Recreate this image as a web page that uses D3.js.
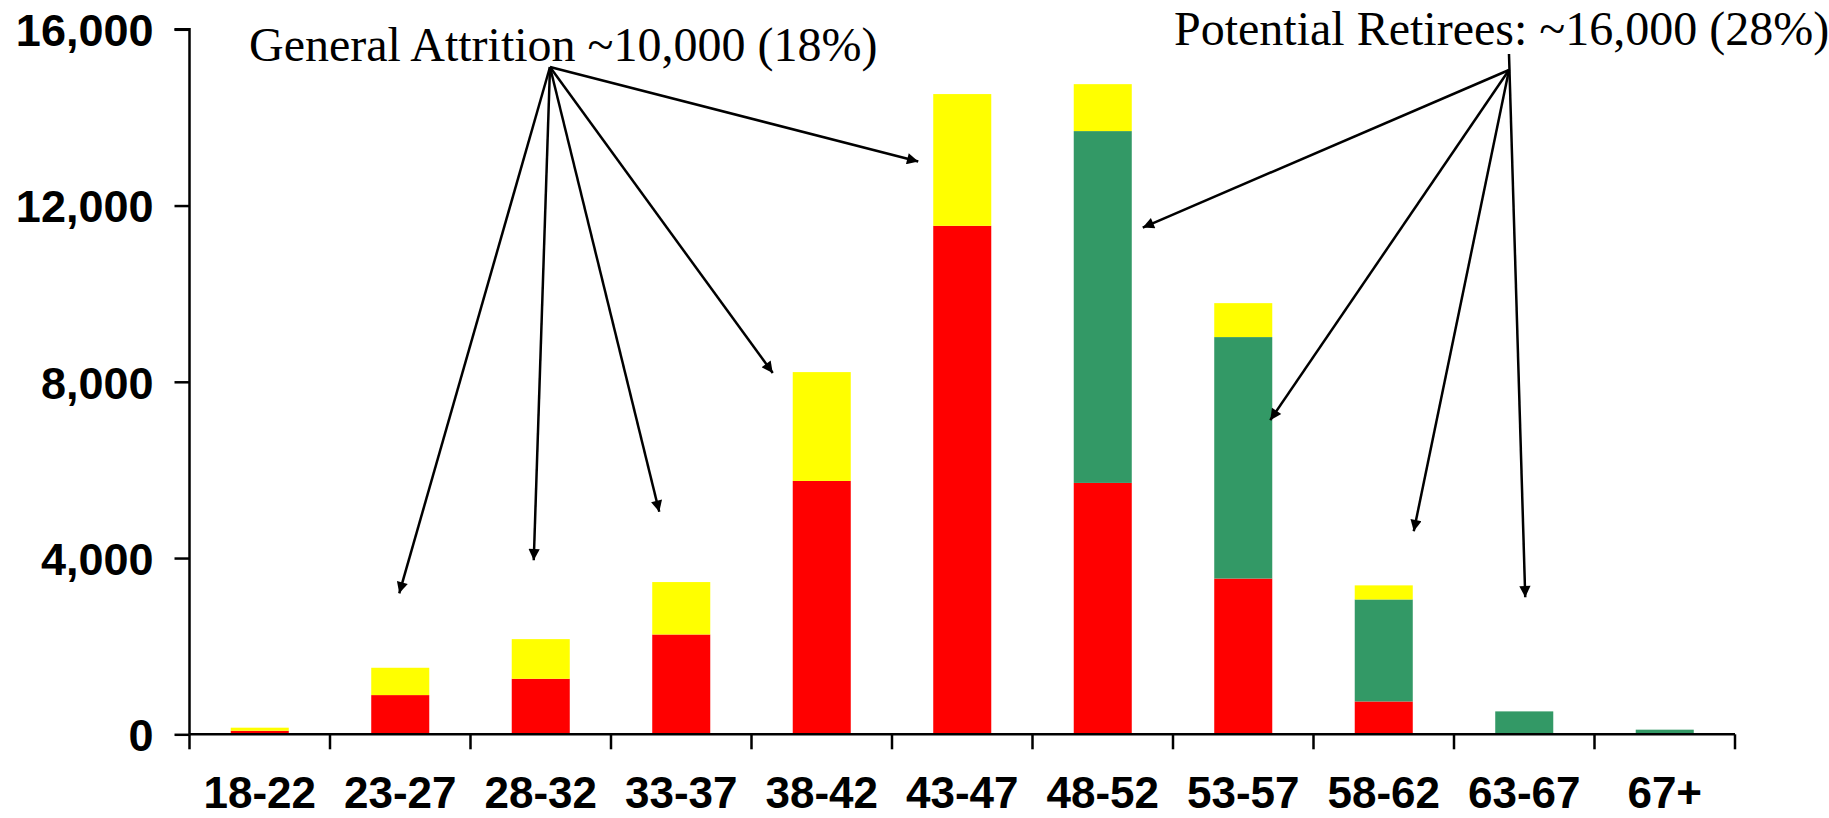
<!DOCTYPE html>
<html>
<head>
<meta charset="utf-8">
<script src="https://cdn.jsdelivr.net/npm/d3@7"></script>
<style>
  html, body { margin: 0; padding: 0; background: #fff; }
  svg { display: block; }
</style>
</head>
<body>
<svg id="chart" width="1829" height="818"></svg>
<script>
// ---- data ----
const categories = ["18-22","23-27","28-32","33-37","38-42","43-47","48-52","53-57","58-62","63-67","67+"];
const remaining   = [80, 890, 1260, 2265, 5750, 11540, 5705, 3535, 745, 0, 0];
const retirees    = [0, 0, 0, 0, 0, 0, 7985, 5480, 2315, 520, 105];
const attrition   = [70, 620, 900, 1190, 2470, 2990, 1065, 770, 320, 0, 0];
const yTicks = [0, 4000, 8000, 12000, 16000];
const attritionLabel = "General Attrition ~10,000 (18%)";
const retireesLabel = "Potential Retirees: ~16,000 (28%)";

const colors = { remaining: "#FF0000", retirees: "#339966", attrition: "#FFFF00" };

// ---- layout ----
const plotLeft = 189.5, plotRight = 1735, plotTop = 29.3, plotBottom = 734.3;
const svg = d3.select("#chart");

const x = d3.scaleBand().domain(categories).range([plotLeft, plotRight])
  .paddingInner(0.587).paddingOuter(0.2935);
const y = d3.scaleLinear().domain([0, 16000]).range([plotBottom, plotTop]);

const rows = categories.map((c, i) => ({ cat: c, remaining: remaining[i], retirees: retirees[i], attrition: attrition[i] }));
const stack = d3.stack().keys(["remaining", "retirees", "attrition"]);
const series = stack(rows);

// bars
svg.append("g").selectAll("g").data(series).join("g")
  .attr("fill", d => colors[d.key])
  .selectAll("rect").data(d => d).join("rect")
  .attr("x", d => x(d.data.cat))
  .attr("width", x.bandwidth())
  .attr("y", d => y(d[1]))
  .attr("height", d => Math.max(0, y(d[0]) - y(d[1])));

// y axis
const yAxis = svg.append("g").attr("transform", `translate(${plotLeft},0)`)
  .call(d3.axisLeft(y).tickValues(yTicks).tickSize(15).tickPadding(21).tickFormat(d3.format(",")));
yAxis.select(".domain").attr("stroke", "#000").attr("stroke-width", 2.5).attr("d", `M-15,${plotTop}H0V${plotBottom}`);
yAxis.selectAll(".tick line").attr("stroke", "#000").attr("stroke-width", 2.5);
yAxis.selectAll("text").attr("font-family", "Liberation Sans, Arial, sans-serif")
  .attr("font-weight", "bold").attr("font-size", 45).attr("fill", "#000").attr("dy", "0.36em");

// x axis baseline + boundary ticks
const step = x.step(), gap = (step - x.bandwidth()) / 2;
const bounds = categories.map(c => x(c) - gap).concat([x(categories[categories.length - 1]) + x.bandwidth() + gap]);
const xg = svg.append("g");
xg.append("line").attr("x1", plotLeft).attr("x2", plotRight).attr("y1", y(0)).attr("y2", y(0))
  .attr("stroke", "#000").attr("stroke-width", 2.5);
xg.selectAll("line.tk").data(bounds).join("line").attr("class", "tk")
  .attr("x1", d => d).attr("x2", d => d).attr("y1", y(0)).attr("y2", y(0) + 15)
  .attr("stroke", "#000").attr("stroke-width", 2.5);
xg.selectAll("text").data(categories).join("text")
  .attr("x", d => x(d) + x.bandwidth() / 2).attr("y", 808)
  .attr("text-anchor", "middle")
  .attr("font-family", "Liberation Sans, Arial, sans-serif")
  .attr("font-weight", "bold").attr("font-size", 44).attr("fill", "#000")
  .text(d => d);

// arrowhead marker
svg.append("defs").append("marker").attr("id", "ah")
  .attr("viewBox", "0 0 10 10").attr("refX", 10).attr("refY", 5)
  .attr("markerWidth", 5.5).attr("markerHeight", 4.5).attr("markerUnits", "strokeWidth")
  .attr("orient", "auto")
  .append("path").attr("d", "M0,0L10,5L0,10Z").attr("fill", "#000");

// annotation texts
svg.append("text").attr("x", 249).attr("y", 61)
  .attr("font-family", "Liberation Serif, Times New Roman, serif").attr("font-size", 48).attr("fill", "#000")
  .text(attritionLabel);
svg.append("text").attr("x", 1174).attr("y", 45)
  .attr("font-family", "Liberation Serif, Times New Roman, serif").attr("font-size", 48).attr("fill", "#000")
  .text(retireesLabel);

// arrows: tips placed relative to bars via scales
const cx = c => x(c) + x.bandwidth() / 2;
const attrOrigin = [550, 67];
const attrTips = [
  [cx("23-27") - 1, y(3200)],
  [cx("28-32") - 7, y(3950)],
  [cx("33-37") - 22, y(5050)],
  [cx("38-42") - 49, y(8200)],
  [cx("43-47") - 44, y(13000)]
];
const retOrigin = [1509, 70];
const retTips = [
  [x("48-52") + x.bandwidth() + 11, y(11500)],
  [x("53-57") + x.bandwidth() - 2, y(7130)],
  [cx("58-62") + 30, y(4610)],
  [cx("63-67") + 1, y(3110)]
];
const arrows = attrTips.map(t => [attrOrigin, t])
  .concat(retTips.map((t, i) => [i === 3 ? [1509, 54] : retOrigin, t]));
svg.append("g").selectAll("line").data(arrows).join("line")
  .attr("x1", d => d[0][0]).attr("y1", d => d[0][1])
  .attr("x2", d => d[1][0]).attr("y2", d => d[1][1])
  .attr("stroke", "#000").attr("stroke-width", 2.5)
  .attr("marker-end", "url(#ah)");
</script>
</body>
</html>
